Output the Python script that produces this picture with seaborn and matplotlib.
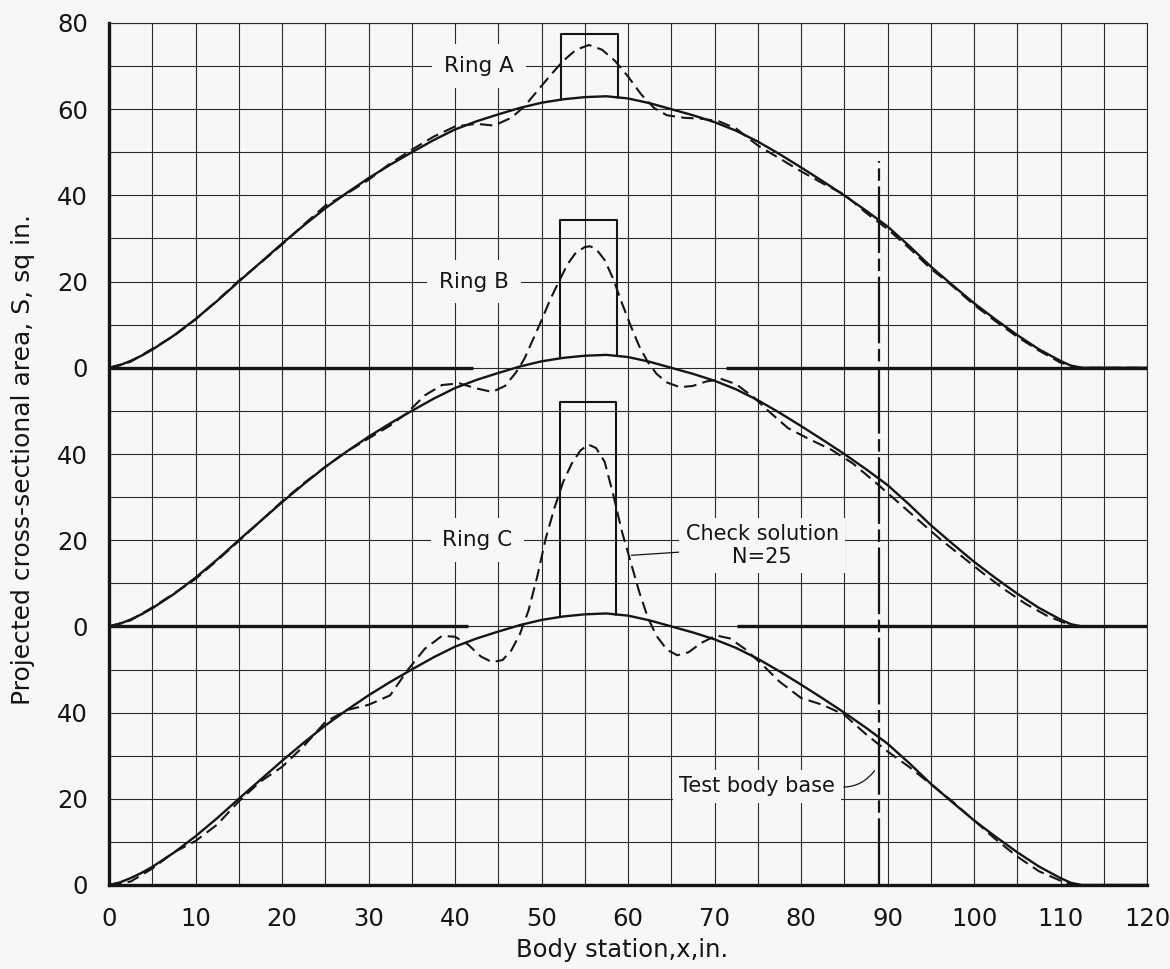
import numpy as np
import pandas as pd
import matplotlib
matplotlib.use("Agg")
import matplotlib.pyplot as plt
import seaborn as sns

# ---------------------------------------------------------------------------
# Data: projected cross-sectional area S (sq in.) versus body station x (in.)
# ---------------------------------------------------------------------------
body_station = [0, 1.25, 2.5, 3.75, 5, 7.5, 10, 12.5, 15, 17.5, 20, 22.5, 25, 27.5,
                30, 32.5, 35, 37.5, 40, 42.5, 45, 47.5, 50, 52.5, 55, 57.5, 60,
                62.5, 65, 67.5, 70, 72.5, 75, 77.5, 80, 82.5, 85, 87.5, 90, 92.5,
                95, 97.5, 100, 102.5, 105, 107.5, 110, 111.2, 112.5, 120]
body_area = [0, 0.6, 1.6, 2.8, 4.2, 7.5, 11.3, 15.5, 20.0, 24.4, 28.8, 33.0, 37.0,
             40.6, 44.0, 47.1, 50.0, 52.8, 55.3, 57.2, 58.8, 60.3, 61.5, 62.3,
             62.8, 63.0, 62.5, 61.4, 60.0, 58.6, 57.0, 55.0, 52.5, 49.6, 46.5,
             43.3, 40.0, 36.5, 32.8, 28.3, 23.5, 19.2, 15.0, 11.2, 7.6, 4.3, 1.6,
             0.5, 0.0, 0.0]

# Check solutions (N = 25) for the three ring configurations
ring_a_station = [0, 2.5, 5, 7.5, 10, 12.5, 15, 17.5, 20, 22.5, 25, 27.5, 30, 32.5,
                  35, 37.5, 40, 42.5, 44.5, 46.5, 48, 49.5, 51, 52.5, 54, 55.5, 57,
                  58.5, 60, 61.5, 63, 64.5, 66.5, 68.5, 70.5, 72.5, 75, 77.5, 80,
                  82.5, 85, 87.5, 90, 92.5, 95, 97.5, 100, 102.5, 105, 107.5, 110,
                  112, 120]
ring_a_check = [0, 1.4, 4.4, 7.4, 11.2, 15.6, 20.2, 24.3, 28.6, 33.2, 37.6, 40.4,
                43.6, 47.4, 50.6, 53.6, 56.0, 56.6, 56.2, 58.0, 60.6, 64.2, 67.8,
                71.2, 73.8, 74.9, 73.8, 71.2, 67.6, 63.5, 60.3, 58.6, 58.0, 57.8,
                57.2, 55.5, 51.6, 48.6, 45.6, 42.8, 40.2, 36.0, 32.2, 27.8, 23.0,
                19.0, 14.6, 10.8, 7.2, 4.0, 1.2, 0, 0]

ring_b_station = [0, 2.5, 5, 7.5, 10, 12.5, 15, 17.5, 20, 22.5, 25, 27.5, 30, 32.5,
                  34.5, 36.5, 38.5, 40.5, 42.5, 44.3, 45.8, 47, 48, 49, 50, 51, 52,
                  53, 54, 55, 55.6, 56.3, 57.3, 58.3, 59.3, 60.3, 61.3, 62.3, 63.3,
                  64.5, 66, 67.5, 69, 70.8, 72.5, 74.5, 76.5, 78.5, 81, 83.5, 86,
                  88.5, 91, 93.5, 96, 98.5, 101, 103.5, 106, 108.5, 110.5, 112, 120]
ring_b_check = [0, 1.4, 4.4, 7.6, 11.0, 15.3, 19.8, 24.4, 29.0, 33.2, 37.0, 40.6,
                43.6, 46.6, 49.6, 53.6, 56.0, 56.4, 55.2, 54.4, 55.8, 58.8, 62.0,
                66.5, 71.0, 75.8, 80.0, 84.0, 86.8, 88.0, 88.2, 87.6, 85.0, 80.6,
                75.0, 69.8, 65.0, 61.3, 58.6, 56.6, 55.5, 55.8, 56.8, 57.4, 56.2,
                53.2, 49.5, 46.0, 43.4, 41.0, 37.8, 33.6, 29.2, 24.8, 20.4, 16.4,
                12.4, 8.6, 5.2, 2.4, 0.8, 0, 0]

ring_c_station = [0, 2.5, 5, 7.5, 10, 12.5, 15, 17.5, 20, 22.5, 25, 27.5, 30, 32.5,
                  34.5, 36.5, 38.5, 40, 41.5, 43, 44.3, 45.5, 46.5, 47.5, 48.5, 49.5,
                  50.5, 51.5, 52.5, 53.5, 54.5, 55.4, 56.3, 57.3, 58.3, 59.3, 60.3,
                  61.3, 62.3, 63.3, 64.5, 65.7, 67, 68.5, 70.2, 71.8, 73.5, 75.5,
                  77.5, 80, 82.5, 85, 87.5, 90, 92.5, 95, 97.5, 100, 102.5, 105,
                  107.5, 110, 111.5, 120]
ring_c_check = [0, 0.8, 3.8, 7.6, 10.2, 14.0, 19.4, 24.0, 27.4, 32.2, 37.8, 40.6,
                41.8, 44.0, 49.8, 54.8, 57.8, 57.6, 55.8, 53.0, 51.7, 52.2, 54.4,
                58.2, 63.7, 71.5, 80.5, 87.5, 93.5, 97.8, 100.8, 102.2, 101.4, 98.2,
                90.5, 82.0, 75.0, 68.0, 62.0, 57.8, 54.6, 53.3, 54.0, 56.2, 57.9,
                57.2, 54.8, 51.2, 47.2, 43.4, 41.8, 39.5, 35.0, 31.0, 27.4, 23.4,
                19.4, 15.0, 10.6, 6.6, 3.2, 1.0, 0, 0]

# Ring outlines: station limits, floor on the body curve, top of the ring
ring_names = ["Ring A", "Ring B", "Ring C"]
ring_left = [52.2, 52.1, 52.1]
ring_right = [58.8, 58.7, 58.6]
ring_floor_left = [62.2, 62.2, 62.2]
ring_floor_right = [62.7, 62.7, 62.7]
ring_top = [77.4, 94.2, 112.0]

# Each panel is stacked on a common vertical scale with its own zero
panel_offset = [120, 60, 0]
# Zero-line breaks for the upper two panels (station ranges left / right)
zero_left_end = [42.1, 41.5]
zero_right_start = [71.3, 72.6]

test_body_base = 89.0
test_body_top = 168.0

y_tick_values = [0, 20, 40, 60, 80, 100, 120, 140, 160, 180, 200]
y_tick_labels = ["0", "20", "40", "0", "20", "40", "0", "20", "40", "60", "80"]
x_tick_values = list(range(0, 121, 10))

# ---------------------------------------------------------------------------
sns.set_theme(style="white")
bg = "#f7f7f7"
ink = "#151515"
plt.rcParams["font.family"] = ["DejaVu Sans"]
plt.rcParams["lines.scale_dashes"] = False

fig = plt.figure(figsize=(11.7, 9.69), dpi=100, facecolor=bg)
ax = fig.add_axes([109 / 1170, 84 / 969, 1038 / 1170, 862 / 969])
ax.set_facecolor(bg)

ax.set_xlim(0, 120)
ax.set_ylim(0, 200)

# Grid: every 5 in. along the body, every 10 sq in. vertically
ax.set_xticks(x_tick_values)
ax.set_xticklabels([str(v) for v in x_tick_values])
ax.set_xticks(np.arange(5, 120, 10), minor=True)
ax.set_yticks(y_tick_values)
ax.set_yticklabels(y_tick_labels)
ax.set_yticks(np.arange(10, 200, 20), minor=True)
ax.grid(which="both", color="#2b2b2b", linewidth=0.8)
ax.set_axisbelow(True)
ax.tick_params(which="both", length=0)
ax.tick_params(axis="y", pad=15, labelsize=17.5, labelcolor=ink)
ax.tick_params(axis="x", pad=16, labelsize=17.5, labelcolor=ink)

for side in ["left", "bottom"]:
    ax.spines[side].set_linewidth(2.4)
    ax.spines[side].set_color(ink)
for side in ["right", "top"]:
    ax.spines[side].set_linewidth(0.8)
    ax.spines[side].set_color("#2b2b2b")

checks = [(ring_a_station, ring_a_check), (ring_b_station, ring_b_check),
          (ring_c_station, ring_c_check)]

for i, name in enumerate(ring_names):
    off = panel_offset[i]
    body_df = pd.DataFrame({"x": body_station,
                            "S": np.asarray(body_area) + off})
    sns.lineplot(data=body_df, x="x", y="S", ax=ax, color=ink, linewidth=1.7,
                 estimator=None, sort=False)
    cx, cs = checks[i]
    check_df = pd.DataFrame({"x": cx, "S": np.asarray(cs) + off})
    sns.lineplot(data=check_df, x="x", y="S", ax=ax, color=ink, linewidth=1.5,
                 estimator=None, sort=False, linestyle=(0, (9, 4.5)))
    # ring outline standing on the body curve
    ax.plot([ring_left[i], ring_left[i], ring_right[i], ring_right[i]],
            [ring_floor_left[i] + off, ring_top[i] + off,
             ring_top[i] + off, ring_floor_right[i] + off],
            color=ink, linewidth=1.5)

# zero lines of the upper panels
for j in range(2):
    off = panel_offset[j]
    ax.hlines(off, 0, zero_left_end[j], color=ink, linewidth=2.4)
    ax.hlines(off, zero_right_start[j], 120, color=ink, linewidth=2.4)

# Test body base station
ax.vlines(test_body_base, 0, test_body_top, color=ink, linewidth=1.6,
          linestyles=[(0, (48, 4, 9, 4))])

# Ring labels sitting on the grid lines
box = dict(boxstyle="square,pad=0.55", facecolor=bg, edgecolor="none")
ring_label_x = [42.8, 42.2, 42.6]
ring_label_y = [190, 140, 80]
for i, name in enumerate(ring_names):
    ax.text(ring_label_x[i], ring_label_y[i], name, ha="center", va="center",
            fontsize=15.5, color=ink, bbox=box, zorder=5)

ax.annotate("Check solution\nN=25", xy=(60.4, 76.5), xytext=(75.5, 78.8),
            ha="center", va="center", fontsize=15, color=ink, linespacing=1.15,
            bbox=dict(boxstyle="square,pad=0.3", facecolor=bg, edgecolor="none"),
            arrowprops=dict(arrowstyle="-", color=ink, lw=0.9, shrinkA=0,
                            shrinkB=0, relpos=(0.0, 0.35)),
            zorder=5)

ax.annotate("Test body base", xy=(88.5, 26.5), xytext=(74.9, 22.9),
            ha="center", va="center", fontsize=15, color=ink,
            bbox=dict(boxstyle="square,pad=0.3", facecolor=bg, edgecolor="none"),
            arrowprops=dict(arrowstyle="-", color=ink, lw=0.9, shrinkA=2,
                            shrinkB=0, relpos=(1.0, 0.5),
                            connectionstyle="arc3,rad=0.3"),
            zorder=5)

ax.set_xlabel("Body station,x,in.", fontsize=17.5, color=ink)
ax.set_ylabel("Projected cross-sectional area, S, sq in.", fontsize=18, color=ink)
ax.xaxis.set_label_coords(0.494, -0.062)
ax.yaxis.set_label_coords(-0.071, 0.494)

fig.savefig("out.png", dpi=100, facecolor=bg)
